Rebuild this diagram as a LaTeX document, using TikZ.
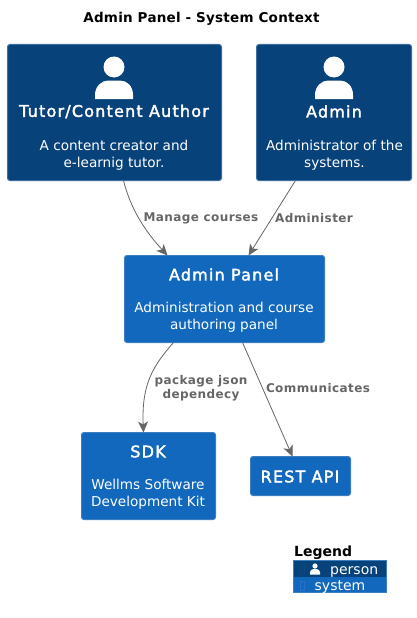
\documentclass[tikz,border=0pt]{standalone}
\usepackage{fontspec}
\setmainfont{DejaVu Sans}
\newfontfamily\namefont[FakeBold=2.2,LetterSpace=7.5]{DejaVu Sans}
\newfontfamily\labelfont[LetterSpace=3.4]{DejaVu Sans Bold}
\newfontfamily\titlefont[LetterSpace=1.8]{DejaVu Sans Bold}
\usetikzlibrary{arrows.meta,calc}
\definecolor{persona}{HTML}{08427B}
\definecolor{personb}{HTML}{3C6F9F}
\definecolor{sysa}{HTML}{1168BD}
\definecolor{sysb}{HTML}{3C7FC0}
\definecolor{edge}{HTML}{666666}
\definecolor{tofua}{HTML}{0B4880}
\definecolor{tofub}{HTML}{2A70C8}
\tikzset{
  x=1pt,y=-1pt,
  box/.style={rounded corners=2.5pt,line width=1pt,anchor=north west,inner sep=0pt,outer sep=0pt},
  personbox/.style={box,fill=persona,draw=personb},
  sysbox/.style={box,fill=sysa,draw=sysb},
  boxtext/.style={text=white,inner sep=0pt,align=center,font=\fontsize{13.6}{17}\selectfont},
  boxname/.style={text=white,inner sep=0pt,align=center,font=\fontsize{16}{19}\namefont},
  edgelabel/.style={text=edge,inner sep=0pt,align=center,font=\fontsize{12}{14}\labelfont},
  conn/.style={draw=edge,line width=0.8pt,-{Stealth[length=11pt,width=10pt,inset=3pt]}},
  icon/.style={fill=white,draw=none},
  tofu/.style={draw=#1,line width=0.7pt,fill=none}
}
\begin{document}
\begin{tikzpicture}
\useasboundingbox (0,0) rectangle (416,618);
\node[text=black,inner sep=0pt,font=\fontsize{13.5}{16}\titlefont] (title) at (201.5,19) {Admin Panel - System Context};
% boxes
\node[personbox,minimum width=214pt,minimum height=136pt] (tutor) at (7.5,44.5) {};
\node[personbox,minimum width=155pt,minimum height=136pt] (admin) at (256.5,44.5) {};
\node[sysbox,minimum width=200pt,minimum height=87pt] (panel) at (124.5,255.5) {};
\node[sysbox,minimum width=134pt,minimum height=87pt] (sdk) at (81.5,432.5) {};
\node[sysbox,minimum width=100pt,minimum height=39pt] (rest) at (250.5,456.5) {};
% icons
\fill[icon] (114,67) circle (10.5);
\fill[icon] (95,99) -- (95,95) .. controls (95,86) and (102,80.5) .. (108,80.5) -- (120,80.5) .. controls (127,80.5) and (133,86) .. (133,95) -- (133,99) -- cycle;
\fill[icon] (334,67) circle (10.5);
\fill[icon] (315,99) -- (315,95) .. controls (315,86) and (322,80.5) .. (328,80.5) -- (340,80.5) .. controls (347,80.5) and (353,86) .. (353,95) -- (353,99) -- cycle;
% texts
\node[boxname] (tutorname) at (114,111.5) {Tutor/Content Author};
\node[boxtext] (tutordesc) at (114,155) {A content creator and\\e-learnig tutor.};
\node[boxname] (adminname) at (334,111.5) {Admin};
\node[boxtext] (admindesc) at (334.5,155) {Administrator of the\\systems.};
\node[boxname] (panelname) at (224,274.5) {Admin Panel};
\node[boxtext] (paneldesc) at (224,317) {Administration and course\\authoring panel};
\node[boxname] (sdkname) at (148,451.5) {SDK};
\node[boxtext] (sdkdesc) at (148,494) {Wellms Software\\Development Kit};
\node[boxname] (restname) at (300,476.5) {REST API};
% connectors
\draw[conn] ($(tutor.south west)+(116,0)$) .. controls ($(tutor.south west)+(123,28)$) and ($(tutor.south west)+(137,50)$) .. ($(panel.north west)+(43,0)$);
\draw[conn] ($(admin.south west)+(39,0)$) -- ($(panel.north west)+(124,0)$);
\draw[conn] ($(panel.south west)+(49,0)$) .. controls ($(panel.south west)+(28,24)$) and ($(sdk.north west)+(60,-48)$) .. ($(sdk.north west)+(62,0)$);
\draw[conn] ($(panel.south west)+(118,0)$) -- ($(rest.north west)+(42,0)$);
% edge labels
\node[edgelabel] (l1) at (201,218) {Manage courses};
\node[edgelabel] (l2) at (314,218) {Administer};
\node[edgelabel] (l3) at (201,388) {package json\\dependecy};
\node[edgelabel] (l4) at (318,388) {Communicates};
% legend
\node[text=black,inner sep=0pt,anchor=west,font=\fontsize{14}{17}\selectfont\bfseries] (legend) at (294,553) {Legend};
\fill[persona] (293.5,560) rectangle (386.5,576.5);
\fill[sysa] (293.5,576.5) rectangle (386.5,592.5);
\draw[sysb,line width=0.8pt] (293.5,560) rectangle (386.5,592.5);
\draw[tofu=tofua] (300.5,564.5) rectangle (304,574);
\draw[tofu=tofub] (300.5,581) rectangle (304,590);
\fill[icon] (315,566) circle (2.6);
\fill[icon] (310,574.5) -- (310,572.5) .. controls (310,570.5) and (311.5,569.2) .. (313,569.2) -- (317,569.2) .. controls (318.5,569.2) and (320,570.5) .. (320,572.5) -- (320,574.5) -- cycle;
\node[text=white,inner sep=0pt,anchor=base west,font=\fontsize{14}{17}\selectfont] (lp) at (330,574) {person};
\node[text=white,inner sep=0pt,anchor=base west,font=\fontsize{14}{17}\selectfont] (ls) at (314.5,590) {system};
\end{tikzpicture}
\end{document}
